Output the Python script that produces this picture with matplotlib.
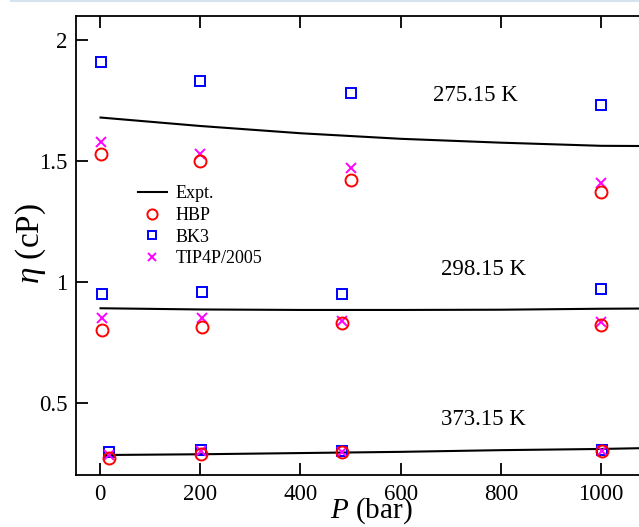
import matplotlib
matplotlib.use("Agg")
import matplotlib.pyplot as plt
from matplotlib.lines import Line2D

plt.rcParams['font.family'] = ['Liberation Serif', 'DejaVu Serif']
plt.rcParams['mathtext.fontset'] = 'custom'
plt.rcParams['mathtext.it'] = 'Liberation Serif:italic'
plt.rcParams['mathtext.rm'] = 'Liberation Serif'

# Experimental viscosity curves (P in bar, eta in cP)
expt_p = [1, 200, 400, 600, 800, 1000, 1100]
expt_275 = [1.68, 1.645, 1.615, 1.592, 1.576, 1.563, 1.562]
expt_298 = [0.891, 0.886, 0.884, 0.884, 0.885, 0.889, 0.890]
expt_373_p = [12, 200, 400, 600, 800, 1000, 1100]
expt_373 = [0.284, 0.287, 0.292, 0.297, 0.304, 0.309, 0.313]

# Simulation results
p_275 = [1, 200, 500, 1000]
hbp_275 = [1.53, 1.50, 1.42, 1.37]
bk3_275 = [1.91, 1.83, 1.78, 1.73]
tip_275 = [1.58, 1.53, 1.47, 1.41]

p_298 = [3, 203, 482, 1000]
hbp_298 = [0.80, 0.815, 0.83, 0.82]
bk3_298 = [0.95, 0.96, 0.95, 0.97]
tip_298 = [0.85, 0.85, 0.84, 0.836]

p_373 = [18, 202, 482, 1002]
hbp_373 = [0.272, 0.289, 0.295, 0.302]
bk3_373 = [0.297, 0.305, 0.300, 0.303]
tip_373 = [0.284, 0.300, 0.296, 0.300]

temps = ["275.15 K", "298.15 K", "373.15 K"]
temp_label_pos = [(750, 1.773), (765, 1.05), (765, 0.43)]

W, H = 639, 527
fig = plt.figure(figsize=(W/100, H/100), dpi=100)
ax = fig.add_axes([76/W, (H-475.3)/H, (651.1-76)/W, (475.3-16)/H])

ax.plot(expt_p, expt_275, color='black', lw=1.5)
ax.plot(expt_p, expt_298, color='black', lw=1.5)
ax.plot(expt_373_p, expt_373, color='black', lw=1.5)

ms_c, ms_s, ms_x = 8.6, 7.2, 7.0
for p, h, b, t in [(p_275, hbp_275, bk3_275, tip_275),
                   (p_298, hbp_298, bk3_298, tip_298),
                   (p_373, hbp_373, bk3_373, tip_373)]:
    ax.plot(p, b, ls='none', marker='s', ms=ms_s, mfc='none', mec='#0000ff', mew=1.4)
    ax.plot(p, t, ls='none', marker='x', ms=ms_x, mec='#ff00ff', mew=1.4)
    ax.plot(p, h, ls='none', marker='o', ms=ms_c, mfc='none', mec='#ff0000', mew=1.4)

for label, (x, y) in zip(temps, temp_label_pos):
    ax.text(x, y, label, ha='center', va='center', fontsize=16.5)

ax.set_xlim(-48, 1100)
ax.set_ylim(0.2, 2.1)
ax.set_xticks([0, 200, 400, 600, 800, 1000])
ax.set_yticks([0.5, 1, 1.5, 2])
ax.set_yticklabels(["0.5", "1", "1.5", "2"])
ax.tick_params(direction='in', length=8.6, width=1.3, labelsize=16.5,
               top=True, right=True, pad=6)
for s in ax.spines.values():
    s.set_linewidth(1.3)

# axis titles placed in figure pixels
fig.text(371/W, 0.5/H, r"$P$ (bar)", fontsize=21, ha='center', va='bottom')
fig.text(31/W, 1-243/H, r"$\eta$ (cP)", fontsize=24, ha='center', va='center',
         rotation=90)

handles = [
    Line2D([], [], color='black', lw=1.5),
    Line2D([], [], ls='none', marker='o', ms=ms_c*0.85, mfc='none', mec='#ff0000', mew=1.4),
    Line2D([], [], ls='none', marker='s', ms=ms_s*0.85, mfc='none', mec='#0000ff', mew=1.4),
    Line2D([], [], ls='none', marker='x', ms=ms_x*0.85, mec='#ff00ff', mew=1.4),
]
ax.legend(handles, ["Expt.", "HBP", "BK3", "TIP4P/2005"], frameon=False,
          fontsize=13, loc='upper left', bbox_to_anchor=(0.092, 0.651),
          handlelength=1.6, handletextpad=0.5, labelspacing=0.26, borderpad=0)

# thin page rule along the top edge
fig.add_artist(Line2D([11/W, 1], [1-0.8/H, 1-0.8/H], color='#d6e4f0', lw=1.5,
                      transform=fig.transFigure))

fig.savefig("out.png", dpi=100)
